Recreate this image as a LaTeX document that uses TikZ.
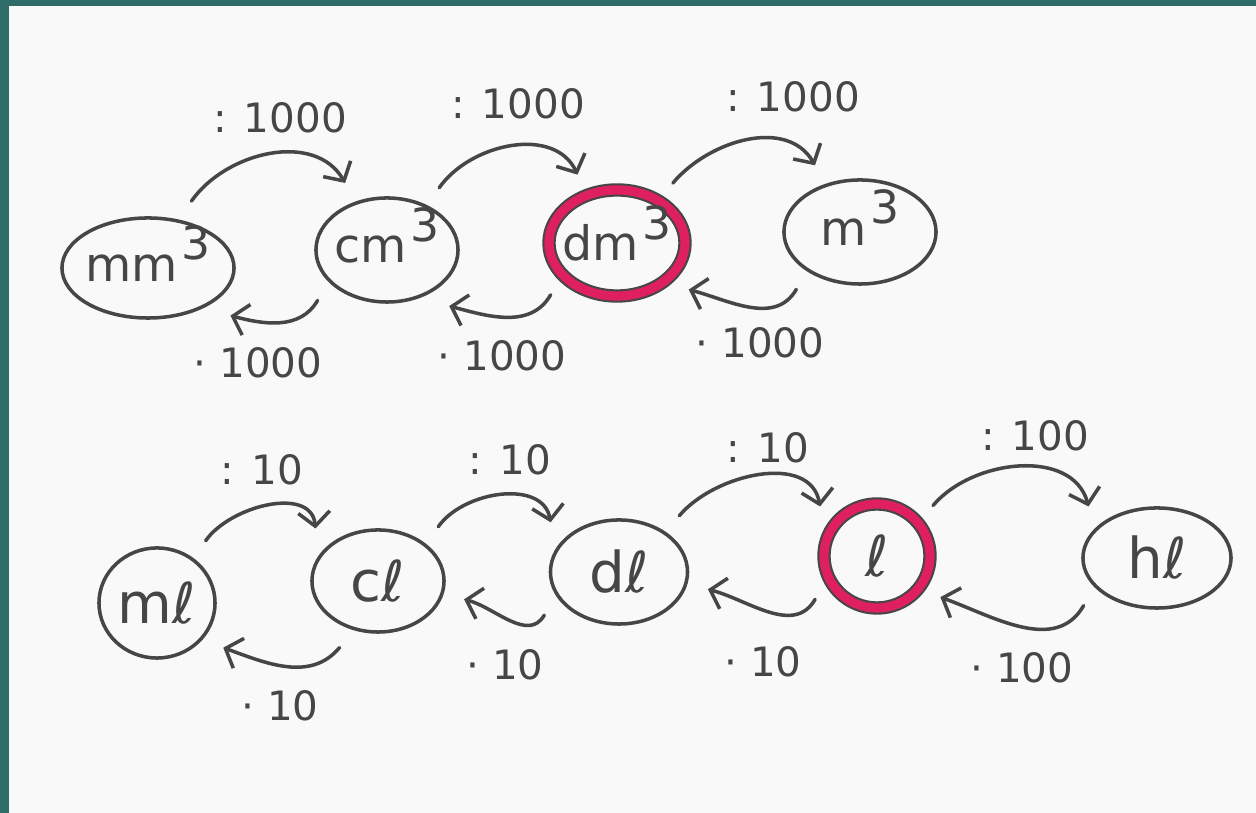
\documentclass[tikz,border=0pt]{standalone}
\usepackage{fontspec}
\setmainfont{DejaVu Sans}
\usetikzlibrary{arrows.meta,shapes.geometric}
\definecolor{teal1}{RGB}{46,108,104}
\definecolor{paper}{RGB}{249,249,249}
\definecolor{pencil}{RGB}{70,70,70}
\definecolor{redpen}{RGB}{222,32,96}
\begin{document}
\begin{tikzpicture}[x=0.01cm,y=-0.01cm,
  unit/.style={ellipse, draw=pencil, line width=1pt, inner sep=-8pt, outer sep=6.5pt,
    text=pencil, font=\fontsize{13.5}{16}\selectfont},
  hot/.style={unit, draw=pencil, line width=0.6pt, double=redpen, double distance=2.6pt},
  conv/.style={draw=pencil, line width=1pt, line cap=round,
    -{Straight Barb[length=4pt,width=9pt,line width=1pt]}},
  lab/.style={text=pencil, font=\fontsize{11.5}{13}\selectfont, inner sep=1pt}]
\useasboundingbox (0,0) rectangle (1256,813);
\fill[paper] (0,0) rectangle (1256,813);
\fill[teal1] (0,0) rectangle (9,813);
\fill[teal1] (0,0) rectangle (1256,6);
\newcommand{\cubed}[1]{#1\hspace{1pt}\smash{\raisebox{0.45em}{\fontsize{13}{13}\selectfont 3}}}
% top row
\node[unit, minimum width=1.72cm, minimum height=1.0cm] (mm) at (148,268) {\cubed{mm}};
\node[unit, minimum width=1.42cm, minimum height=1.04cm] (cm) at (387,250) {\cubed{cm}};
\node[hot, minimum width=1.36cm, minimum height=1.06cm] (dm) at (617,243) {\cubed{dm}};
\node[unit, minimum width=1.52cm, minimum height=1.04cm] (m) at (860,232) {\cubed{m}};
% bottom row
\node[unit, minimum width=1.16cm, minimum height=1.1cm, font=\fontsize{16}{18}\selectfont] (ml) at (157,603) {mℓ};
\node[unit, minimum width=1.32cm, minimum height=1.02cm, font=\fontsize{16}{18}\selectfont] (cl) at (378,581) {cℓ};
\node[unit, minimum width=1.37cm, minimum height=1.04cm, font=\fontsize{16}{18}\selectfont] (dl) at (619,572) {dℓ};
\node[hot, minimum width=1.06cm, minimum height=1.04cm, font=\fontsize{16}{18}\selectfont] (l) at (877,556) {ℓ};
\node[unit, minimum width=1.48cm, minimum height=1.0cm, font=\fontsize{16}{18}\selectfont] (hl) at (1157,558) {hℓ};
% top row connectors
\draw[conv] (mm.57) to[out=55,in=120] (cm.122);
\draw[conv] (cm.50) to[out=55,in=115] (dm.120);
\draw[conv] (dm.47) to[out=50,in=120] (m.124);
\draw[conv] (cm.216) to[out=240,in=-15] (mm.330);
\draw[conv] (dm.218) to[out=240,in=-15] (cm.318);
\draw[conv] (m.222) to[out=240,in=-15] (dm.327);
% bottom row connectors
\draw[conv] (ml.52) to[out=55,in=95] (cl.140);
\draw[conv] (cl.42) to[out=55,in=100] (dl.144);
\draw[conv] (dl.43) to[out=50,in=100] (l.139);
\draw[conv] (l.42) to[out=50,in=105] (hl.143);
\draw[conv] (cl.240) to[out=230,in=-20] (ml.326);
\draw[conv] (dl.210) to[out=240,in=-15] (cl.348);
\draw[conv] (l.215) to[out=240,in=-15] (dl.349);
\draw[conv] (hl.213) to[out=240,in=-20] (l.327);
% labels
\node[lab] (d1) at (280,118) {: 1000};
\node[lab] (d2) at (518,104) {: 1000};
\node[lab] (d3) at (793,97) {: 1000};
\node[lab] (p1) at (258,363) {· 1000};
\node[lab] (p2) at (502,356) {· 1000};
\node[lab] (p3) at (760,343) {· 1000};
\node[lab] (d4) at (262,470) {: 10};
\node[lab] (d5) at (510,460) {: 10};
\node[lab] (d6) at (768,448) {: 10};
\node[lab] (d7) at (1035,436) {: 100};
\node[lab] (p4) at (280,706) {· 10};
\node[lab] (p5) at (505,665) {· 10};
\node[lab] (p6) at (763,662) {· 10};
\node[lab] (p7) at (1022,668) {· 100};
\end{tikzpicture}
\end{document}
